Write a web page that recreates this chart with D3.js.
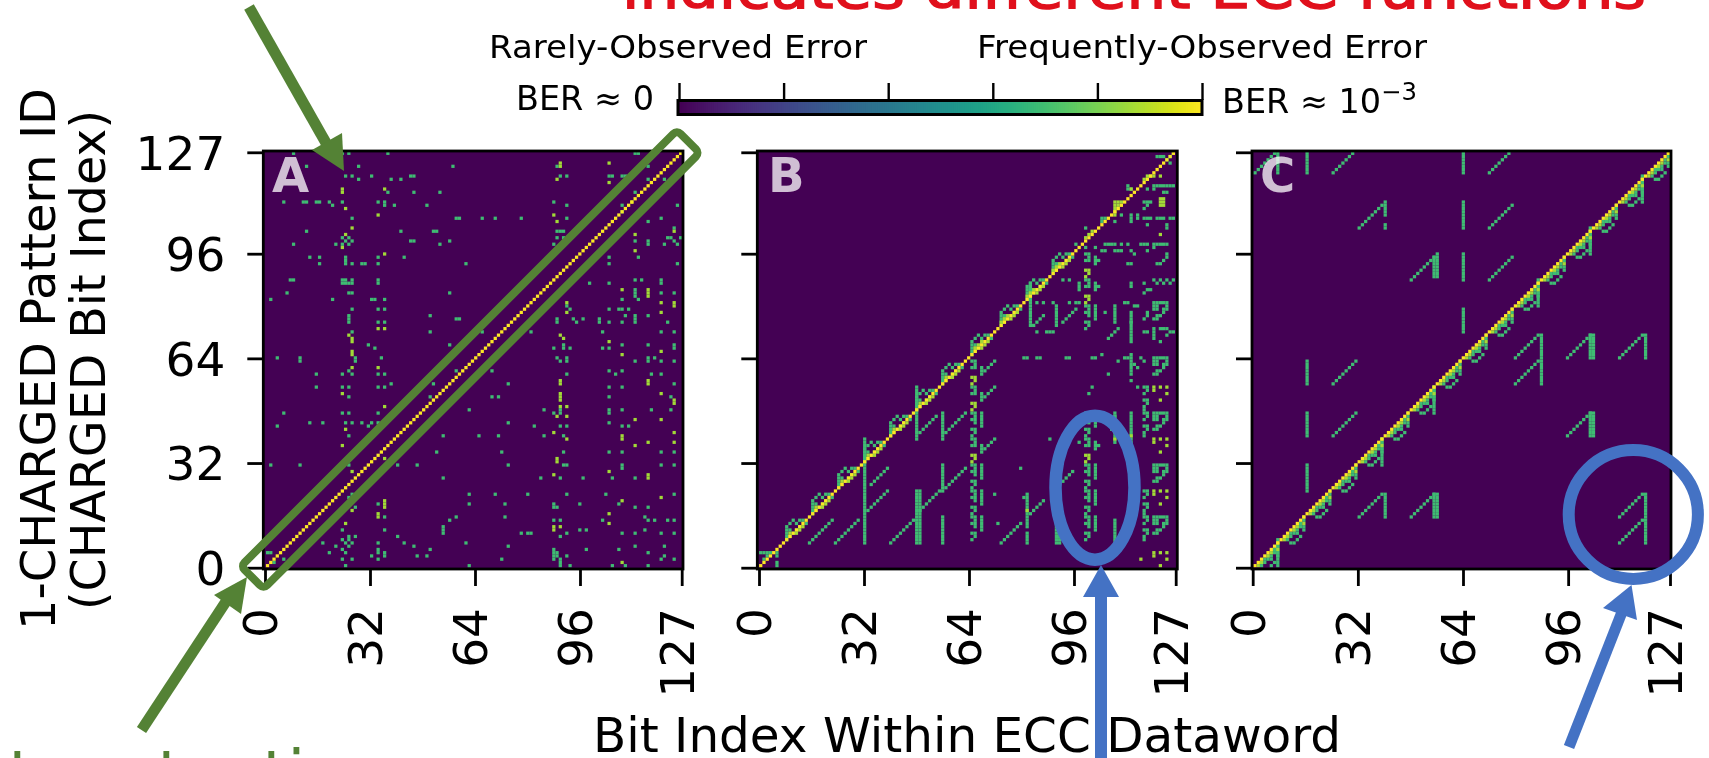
<!DOCTYPE html>
<html>
<head>
<meta charset="utf-8">
<script src="https://cdnjs.cloudflare.com/ajax/libs/d3/7.8.5/d3.min.js"></script>
<style>
  html, body { margin: 0; padding: 0; background: #fff; overflow: hidden; }
  svg { filter: blur(0.45px); }
  text { font-family: "DejaVu Sans", sans-serif; fill: #000; }
</style>
</head>
<body>
<div id="chart"></div>
<script>
// axis ticks shared by all three panels
const tickValues = [0, 32, 64, 96, 127];
const colorbarTicks = [0, 0.2, 0.4, 0.6, 0.8, 1];

// colour levels (fraction of the viridis scale)
const levelGreen = 0.69;
const levelLime = 0.86;
const levelYellow = 1;

// main diagonal, [startCol, startRow, length]
const mainDiagonal = [[0, 0, 128]];

// panel A, scattered cells: [row, [columns]]
const aGreen = [
  [127, [8, 23, 25, 37, 113, 114]],
  [123, [12, 28, 57, 89, 117]],
  [120, [24, 26, 32, 44, 45, 90, 92, 105, 106, 109, 110]],
  [119, [28, 38, 41, 117, 122]],
  [115, [37, 45, 53, 113]],
  [112, [5, 11, 12, 15, 16, 19, 23, 34, 36, 88]],
  [111, [20, 36, 39, 49, 92, 109, 126]],
  [109, [109]],
  [107, [26, 58, 59, 66, 70, 78, 92, 121]],
  [106, [117]],
  [104, [125]],
  [103, [12, 41, 51, 52, 89, 90, 91]],
  [101, [23, 25, 89, 91, 123, 124, 127]],
  [100, [24, 26, 44, 45, 56, 113, 117, 125]],
  [99, [8, 21, 23, 25, 53, 88, 117, 122, 126]],
  [95, [13, 16, 24, 34, 42, 105, 114]],
  [94, [24]],
  [93, [16, 24, 26, 29, 30, 34, 61, 105, 126]],
  [88, [7, 8, 23, 24, 26, 34, 113, 115, 121]],
  [87, [23, 24, 25, 26, 34, 99, 105, 121]],
  [84, [6, 25, 26, 56, 113, 121, 125]],
  [83, [113]],
  [82, [1, 20, 32, 33, 36, 109, 114]],
  [85, [113]],
  [80, [92]],
  [79, [26, 34, 36, 93, 105, 108, 109, 111]],
  [77, [25, 50, 110, 113, 117]],
  [76, [25, 58, 59, 89, 94, 97, 102, 113]],
  [75, [25, 34, 36, 89, 95, 102, 105, 109, 113, 123]],
  [72, [26, 50, 66, 81, 103, 121, 125]],
  [68, [31, 56, 91, 109, 117, 125]],
  [67, [33, 88, 91, 93, 103, 105, 125]],
  [64, [3, 10, 27, 35, 89, 92, 117, 119]],
  [63, [10, 27, 90, 92, 113, 117, 121, 125]],
  [60, [25, 58, 69, 105, 109]],
  [59, [15, 23, 26, 34, 36, 92, 107, 118, 121]],
  [56, [38, 51, 74, 125]],
  [55, [15, 23, 25, 34, 36, 105, 109]],
  [52, [25, 50, 69, 71, 105, 124]],
  [48, [62, 85, 90, 105, 109, 118, 124]],
  [47, [5, 23, 25, 34, 88, 90, 105]],
  [44, [13, 17, 24, 26, 29, 32, 34, 36, 74, 105]],
  [43, [3, 31, 82, 90, 92, 109, 111]],
  [40, [25, 54, 65, 71, 85, 91]],
  [35, [52, 72, 91, 105, 109, 121, 125]],
  [31, [1, 10, 25, 40, 46, 74, 91, 92, 109, 121, 125]],
  [30, [109]],
  [27, [54, 84, 90, 97, 106, 113]],
  [22, [26, 62, 70, 80, 92, 104, 125]],
  [21, [25]],
  [20, [26]],
  [19, [34, 62, 73, 88, 96, 108]],
  [18, [27, 88, 89, 113, 117]],
  [15, [36, 58, 73, 116]],
  [14, [56, 88, 90, 103, 117, 119, 123, 125]],
  [12, [54]],
  [11, [23, 36, 54, 96, 98, 116]],
  [10, [54, 78, 80, 81, 92, 109, 113, 121, 125]],
  [9, [25, 27, 40, 90]],
  [8, [23, 25]],
  [7, [17, 24, 26, 34, 42, 61]],
  [6, [21, 25, 45, 74, 113, 122]],
  [5, [23, 34, 50, 88, 98, 108]],
  [4, [0, 1, 19, 24, 34, 36, 88, 89, 117]],
  [3, [32, 36, 46, 49, 88, 89, 92, 122]],
  [2, [5, 23, 26, 34, 72, 88, 90, 121, 125]],
  [1, [2, 90]],
  [0, [24, 62, 90, 93, 106, 110, 117]]
];
const aLime = [
  [124, [90, 105]],
  [123, [90]],
  [119, [89]],
  [118, [105]],
  [116, [23, 36]],
  [115, [23]],
  [112, [112]],
  [110, [24]],
  [108, [34, 88]],
  [106, [89]],
  [104, [26]],
  [103, [125]],
  [102, [24, 113]],
  [98, [23]],
  [97, [113]],
  [96, [36]],
  [85, [109, 117]],
  [84, [117]],
  [83, [117]],
  [81, [92, 121, 125]],
  [80, [125]],
  [78, [92, 121]],
  [73, [34, 36]],
  [71, [25, 90]],
  [70, [26, 91]],
  [69, [26, 105]],
  [66, [26, 121]],
  [65, [26, 109]],
  [61, [26, 34]],
  [57, [90, 117]],
  [56, [90, 117]],
  [53, [23, 90, 121]],
  [52, [90]],
  [51, [90, 125]],
  [50, [125]],
  [49, [36, 90, 92]],
  [46, [89, 92]],
  [45, [113, 121]],
  [42, [24]],
  [41, [88, 125]],
  [40, [109]],
  [39, [92, 109]],
  [38, [117, 125]],
  [37, [23, 113]],
  [33, [36, 89]],
  [32, [89]],
  [29, [26, 105]],
  [28, [88, 117]],
  [27, [117]],
  [21, [121]],
  [20, [36, 109]],
  [19, [36]],
  [18, [36]],
  [17, [26]],
  [16, [34, 105]],
  [15, [34]],
  [13, [24, 105]],
  [12, [88, 90]],
  [11, [88]],
  [1, [109]]
];

// panel B: repeated shapes and their positions
const bBlock = [[0, 0], [0, 1], [0, 2], [0, 3], [0, 4], [1, 5], [3, 5], [2, 6], [4, 6], [5, 6], [1, 3], [3, 3], [2, 2], [4, 4], [6, 5]];
const bBlockLime = [[1, 1], [1, 2], [3, 2], [4, 3], [5, 4]];
const bBlockStarts = [8, 16, 24, 32, 40, 48, 56, 65, 74, 82, 90];
const bLeftBars = [[65, 47], [65, 31], [65, 23], [65, 15], [100, 31], [100, 23], [100, 15], [100, 47], [100, 80]];
const bBar = [[0, 0], [1, 0], [3, 0], [1, -1], [3, -1], [0, -2], [1, -2], [3, -2], [1, -3], [3, -3], [3, -4], [0, -5], [1, -5], [1, -6], [0, -7]];
const bLeftHooks = [[65, 63], [65, 55], [65, 39]];
const bHook = [[0, 0], [1, 0], [7, 0], [1, -1], [6, -1], [0, -2], [1, -2], [3, -2], [5, -2], [3, -3], [4, -3], [3, -4]];
const bShortHooks = [[100, 39], [100, 96], [100, 88]];
const bShortHook = [[0, 0], [1, 0], [1, -1], [0, -2], [1, -2], [3, -1], [4, -2], [3, -2], [3, -3]];
const bHookLime = [[0, -5], [1, -5], [1, -6], [0, -7]];
const bBigStarts = [15, 31, 47, 64, 81];
const bBig = [[121, 0], [122, 0], [123, 0], [124, 0], [125, 0], [121, -1], [122, -1], [125, -1], [121, -2], [122, -2], [124, -2], [125, -2], [124, -3], [122, -4], [123, -4], [121, -5], [122, -5]];
const bSparseStarts = [55, 39, 23, 4];
const bSparse = [[121, 0], [123, 0], [125, 0], [121, -1], [125, -2], [123, -4]];
const bDottedStarts = [47, 23, 15, 55];
const bDotted = [[118, 0], [119, 0], [119, -1], [118, -2], [118, -4], [119, -4], [119, -5], [118, -6], [118, -7]];

// panel B: straight pieces, [col, rowFrom, rowTo] and [col, row, length]
const bColumns = [
  [32, 7, 39], [48, 7, 23], [49, 7, 23], [48, 39, 55], [56, 7, 15], [56, 23, 31], [56, 39, 47],
  [82, 12, 22], [82, 7, 10], [91, 7, 13], [92, 7, 13], [109, 7, 14], [114, 106, 108],
  [114, 14, 18], [114, 72, 75], [114, 59, 65], [109, 38, 47], [114, 38, 47],
  [83, 74, 87], [91, 74, 80], [109, 75, 80], [114, 75, 78], [114, 69, 71],
  [98, 85, 86]
];
const bSlants = [
  [15, 7, 8], [23, 7, 8], [33, 17, 7], [34, 25, 6], [40, 7, 8], [49, 17, 7], [57, 24, 7],
  [49, 41, 6], [57, 41, 7], [74, 7, 7], [83, 16, 5], [93, 26, 4], [107, 70, 4], [84, 74, 4], [93, 75, 5]
];
const bPoints = [
  [5, 0], [5, 1], [5, 3], [5, 4], [0, 4], [1, 4], [2, 4], [3, 4], [2, 3], [1, 2],
  [105, 65], [80, 30], [72, 22], [73, 13], [89, 39], [81, 21], [98, 38], [109, 46],
  [110, 63], [107, 59], [102, 55], [101, 53], [114, 57], [116, 55], [108, 42],
  [122, 126], [123, 126], [124, 126], [126, 126], [125, 125], [127, 127], [126, 124],
  [113, 117], [114, 116], [113, 116], [119, 116], [121, 116], [124, 115], [125, 115],
  [121, 117], [122, 117], [123, 117], [124, 117], [125, 117], [126, 117], [127, 117],
  [118, 112], [119, 112], [120, 112], [119, 111], [118, 110], [111, 108], [105, 107], [106, 107], [105, 106], [109, 106],
  [116, 108], [116, 107], [118, 107], [119, 107], [120, 107], [122, 107], [123, 107], [124, 107], [126, 107], [127, 107], [119, 105],
  [125, 105], [125, 104], [100, 104], [97, 99], [100, 98], [103, 98], [106, 99], [107, 99], [108, 99], [109, 99], [111, 99], [113, 99],
  [117, 99], [118, 99], [119, 99], [121, 99], [122, 99], [123, 99], [124, 99], [125, 99], [121, 98], [105, 97], [106, 97], [109, 97], [110, 97], [111, 97],
  [114, 97], [115, 96], [119, 97], [125, 96], [125, 95], [124, 94], [123, 93], [122, 93], [113, 93], [114, 93],
  [93, 88], [95, 88], [98, 87], [121, 88], [123, 88], [125, 88], [127, 88], [122, 87], [124, 87], [126, 87], [114, 87], [114, 86],
  [118, 87], [119, 85], [118, 84], [120, 85], [85, 81], [87, 81], [90, 81], [95, 81], [97, 81], [98, 81],
  [112, 81], [113, 81], [115, 80], [116, 80], [119, 78], [119, 77], [118, 76], [106, 78], [85, 72], [88, 72], [89, 72], [90, 72],
  [121, 73], [121, 72], [121, 71], [121, 70], [123, 73], [124, 73], [125, 73], [126, 72], [127, 72], [125, 71], [123, 69], [118, 72], [119, 72],
  [112, 64], [113, 64], [117, 64], [118, 63], [116, 61], [115, 62], [94, 64], [95, 64], [102, 64], [103, 64], [85, 64], [86, 64], [81, 64], [82, 64]
];
const bLimePoints = [
  [123, 120], [123, 113], [124, 113], [123, 112], [124, 112], [123, 111], [124, 111], [123, 102],
  [109, 108], [109, 109], [109, 110], [110, 110], [110, 111], [109, 111], [109, 112], [110, 112], [111, 112],
  [118, 119], [119, 119], [120, 120], [121, 120], [119, 120], [114, 116], [109, 39], [114, 40], [82, 17], [117, 2]
];
// panel B: short runs that sit close to the diagonal
const bDiagonalLime = [[100, 101, 3], [66, 67, 3], [74, 75, 3], [82, 83, 3], [90, 91, 3]];

// panel C: repeated block on the diagonal
const cBlockStarts = [0, 8, 16, 24, 32, 40, 48, 56, 64, 72, 80, 88, 96, 104, 112, 120];
const cBlock = [[2, 0], [3, -1], [4, -1], [5, 0], [6, 1], [5, 2], [4, 2], [3, 1], [7, 3], [7, 4], [6, 5], [6, 4], [5, 3], [4, 3], [3, 2], [7, 6]];
const cBlockLime = [[1, 0], [2, 1], [4, 3], [5, 4], [7, 5], [7, 7]];
// panel C: bars, [col, rowFrom, rowTo]
const cColumns = [
  [7, 121, 127], [16, 121, 127], [64, 121, 127], [64, 104, 112], [64, 88, 96], [64, 72, 79],
  [16, 56, 63], [16, 40, 47], [16, 23, 31],
  [40, 108, 112], [40, 104, 105], [56, 89, 96], [55, 89, 95],
  [88, 64, 71], [88, 56, 63], [104, 64, 71], [103, 64, 71], [120, 64, 71],
  [104, 40, 47], [103, 40, 47], [40, 15, 22], [56, 15, 22], [55, 15, 22], [120, 15, 22], [120, 7, 14],
  [7, 0, 8], [39, 31, 39], [55, 47, 55], [87, 80, 88], [103, 96, 104], [119, 112, 120]
];
// panel C: slants, [col, row, length]
const cSlants = [
  [0, 121, 7], [24, 121, 7], [72, 121, 7], [32, 104, 8], [72, 104, 8], [48, 88, 8], [72, 88, 8],
  [24, 56, 8], [24, 40, 8], [80, 64, 8], [80, 56, 8], [96, 64, 8], [112, 64, 8], [96, 40, 8],
  [32, 15, 8], [48, 15, 8], [112, 15, 8], [112, 7, 8]
];

const width = 1709;
const height = 758;
const green = "#548235";
const blue = "#4472c4";

const color = d3.scaleSequential(d3.interpolateViridis).domain([0, 1]);

const svg = d3.select("#chart").append("svg")
  .attr("width", width)
  .attr("height", height)
  .style("display", "block");

// helpers that unpack the lists above into single cells
const fromRows = (rows, value) => rows.flatMap(([r, cols]) => cols.map(c => ({ col: c, row: r, value })));
const fromPoints = (pts, value) => pts.map(([c, r]) => ({ col: c, row: r, value }));
const fromColumns = (cols, value) => cols.flatMap(([c, r0, r1]) => d3.range(r0, r1 + 1).map(r => ({ col: c, row: r, value })));
const fromSlants = (slants, value) => slants.flatMap(([c, r, n]) => d3.range(n).map(i => ({ col: c + i, row: r + i, value })));
const place = (shape, col, row, value) => shape.map(([dc, dr]) => ({ col: col + dc, row: row + dr, value }));

const cellsA = [].concat(
  fromRows(aGreen, levelGreen),
  fromRows(aLime, levelLime),
  fromSlants(mainDiagonal, levelYellow)
);

const cellsB = [].concat(
  bBlockStarts.flatMap(b => place(bBlock, b, b, levelGreen)),
  bBlockStarts.flatMap(b => place(bBlockLime, b, b, levelLime)),
  bLeftBars.flatMap(([c, r]) => place(bBar, c, r, levelGreen)),
  bLeftHooks.flatMap(([c, r]) => place(bHook, c, r, levelGreen)),
  bShortHooks.flatMap(([c, r]) => place(bShortHook, c, r, levelGreen)),
  bLeftHooks.concat(bShortHooks).flatMap(([c, r]) => place(bHookLime, c, r, levelLime)),
  bBigStarts.flatMap(r => place(bBig, 0, r, levelGreen)),
  bSparseStarts.flatMap(r => place(bSparse, 0, r, levelLime)),
  bDottedStarts.flatMap(r => place(bDotted, 0, r, levelGreen)),
  fromColumns(bColumns, levelGreen),
  fromSlants(bSlants, levelGreen),
  fromPoints(bPoints, levelGreen),
  fromPoints(bLimePoints, levelLime),
  fromSlants(bDiagonalLime, levelLime),
  fromSlants(mainDiagonal, levelYellow)
).filter(d => d.col < 128 && d.row < 128 && d.row >= 0);

const cellsC = [].concat(
  fromColumns(cColumns, levelGreen),
  fromSlants(cSlants, levelGreen),
  cBlockStarts.flatMap(b => place(cBlock, b, b, levelGreen)),
  cBlockStarts.flatMap(b => place(cBlockLime, b, b, levelLime)),
  fromSlants(mainDiagonal, levelYellow)
).filter(d => d.col < 128 && d.row < 128 && d.row >= 0);

// panel geometry
const panels = [
  { name: "A", cells: cellsA, left: 263.3, right: 683, image: [265.9, 682.3], ticks: [265, 681.7], letterX: 272 },
  { name: "B", cells: cellsB, left: 757.3, right: 1177.3, image: [759.1, 1175], ticks: [759, 1175.7], letterX: 768 },
  { name: "C", cells: cellsC, left: 1252, right: 1671, image: [1253.4, 1670], ticks: [1252.7, 1670], letterX: 1260 }
];
const plotTop = 151;
const plotBottom = 569;

const yTicks = d3.scaleLinear().domain([0, 127]).range([567.7, 152.3]);

panels.forEach((p, i) => {
  const g = svg.append("g").attr("class", "panel-" + p.name);

  g.append("rect")
    .attr("x", p.left).attr("y", plotTop)
    .attr("width", p.right - p.left).attr("height", plotBottom - plotTop)
    .attr("fill", color(0));

  const cellX = d3.scaleBand().domain(d3.range(128)).range(p.image);
  const cellY = d3.scaleBand().domain(d3.range(128)).range([567.3, 151.7]);

  g.selectAll("rect.cell")
    .data(p.cells)
    .enter()
    .append("rect")
    .attr("class", "cell")
    .attr("x", d => cellX(d.col))
    .attr("y", d => cellY(d.row))
    .attr("width", cellX.bandwidth())
    .attr("height", cellY.bandwidth())
    .attr("fill", d => color(d.value));

  g.append("rect")
    .attr("x", p.left).attr("y", plotTop)
    .attr("width", p.right - p.left).attr("height", plotBottom - plotTop)
    .attr("fill", "none")
    .attr("stroke", "#000")
    .attr("stroke-width", 2.8);

  g.append("text")
    .attr("x", p.letterX).attr("y", 191.7)
    .attr("font-size", 48)
    .attr("font-weight", "bold")
    .style("fill", "#fff")
    .attr("fill-opacity", 0.75)
    .text(p.name);

  // bottom axis
  const xTicks = d3.scaleLinear().domain([0, 127]).range(p.ticks);
  const xAxis = g.append("g")
    .attr("transform", "translate(0," + plotBottom + ")")
    .call(d3.axisBottom(xTicks).tickValues(tickValues).tickSize(17).tickFormat(d3.format("d")));
  xAxis.select(".domain").remove();
  xAxis.selectAll("line").attr("stroke", "#000").attr("stroke-width", 2.8);
  xAxis.selectAll("text")
    .attr("transform", "rotate(-90)")
    .attr("x", -39)
    .attr("y", -5)
    .attr("dy", "0.35em")
    .attr("text-anchor", "end")
    .attr("font-size", 47)
    .attr("font-family", "DejaVu Sans")
    .style("fill", "#000");

  // left axis, labels only on the first panel
  const yAxis = g.append("g")
    .attr("transform", "translate(" + p.left + ",0)")
    .call(d3.axisLeft(yTicks).tickValues(tickValues).tickSize(16).tickFormat(i === 0 ? d3.format("d") : ""));
  yAxis.select(".domain").remove();
  yAxis.selectAll("line").attr("stroke", "#000").attr("stroke-width", 2.8);
  yAxis.selectAll("text")
    .attr("x", -38)
    .attr("dy", "0.36em")
    .attr("font-size", 47)
    .attr("font-family", "DejaVu Sans")
    .style("fill", "#000");
});

// axis titles
const rotated = (x, y, str, len, size) => svg.append("text")
  .attr("transform", "translate(" + x + "," + y + ") rotate(-90)")
  .attr("text-anchor", "middle")
  .attr("font-size", size)
  .attr("textLength", len)
  .attr("lengthAdjust", "spacingAndGlyphs")
  .text(str);

rotated(55, 359, "1-CHARGED Pattern ID", 542, 48);
rotated(105, 360, "(CHARGED Bit Index)", 500, 48);

svg.append("text")
  .attr("x", 593).attr("y", 752)
  .attr("font-size", 48)
  .attr("textLength", 748)
  .attr("lengthAdjust", "spacingAndGlyphs")
  .text("Bit Index Within ECC Dataword");

// colour bar
const barScale = d3.scaleLinear().domain([0, 1]).range([679, 1202]);
const barSteps = d3.range(0, 1, 1 / 255);
svg.append("g").selectAll("rect")
  .data(barSteps)
  .enter()
  .append("rect")
  .attr("x", d => barScale(d))
  .attr("y", 101)
  .attr("width", 3)
  .attr("height", 13)
  .attr("fill", d => color(d));
svg.append("rect")
  .attr("x", 678).attr("y", 100.5)
  .attr("width", 524).attr("height", 14)
  .attr("fill", "none")
  .attr("stroke", "#000")
  .attr("stroke-width", 3);
const barAxis = svg.append("g")
  .attr("transform", "translate(0,100)")
  .call(d3.axisTop(barScale).tickValues(colorbarTicks).tickSize(17).tickFormat(""));
barAxis.select(".domain").remove();
barAxis.selectAll("line").attr("stroke", "#000").attr("stroke-width", 2.4);

const caption = (x, y, str, len, size) => svg.append("text")
  .attr("x", x).attr("y", y)
  .attr("font-size", size)
  .attr("textLength", len)
  .attr("lengthAdjust", "spacingAndGlyphs")
  .text(str);

caption(489, 58, "Rarely-Observed Error", 378, 32);
caption(977, 58, "Frequently-Observed Error", 450, 32);
caption(516, 110, "BER  \u2248 0", 138, 33);
const ber = svg.append("text")
  .attr("x", 1222).attr("y", 113)
  .attr("font-size", 33)
  .attr("textLength", 195)
  .attr("lengthAdjust", "spacingAndGlyphs");
ber.append("tspan").text("BER  \u2248 10");
ber.append("tspan").attr("dy", -13).attr("font-size", 24).text("\u22123");

// annotations over the chart
svg.append("text")
  .attr("x", 622).attr("y", 8)
  .attr("font-size", 54)
  .attr("textLength", 1024)
  .attr("lengthAdjust", "spacingAndGlyphs")
  .style("fill", "#e0101c")
  .attr("stroke", "#e0101c")
  .attr("stroke-width", 1.4)
  .text("indicates different ECC functions");

svg.append("text")
  .attr("x", -80).attr("y", 796)
  .attr("font-size", 64)
  .style("fill", green)
  .text("Data retention");

const arrow = (shaftFrom, shaftTo, head, col, w) => {
  svg.append("line")
    .attr("x1", shaftFrom[0]).attr("y1", shaftFrom[1])
    .attr("x2", shaftTo[0]).attr("y2", shaftTo[1])
    .attr("stroke", col)
    .attr("stroke-width", w);
  svg.append("path")
    .attr("d", d3.line()(head) + "Z")
    .attr("fill", col);
};

// green outline around the diagonal of panel A
svg.append("rect")
  .attr("x", -308.3).attr("y", -16)
  .attr("width", 616.6).attr("height", 32)
  .attr("rx", 5)
  .attr("transform", "translate(470.25,359.5) rotate(-45)")
  .attr("fill", "none")
  .attr("stroke", green)
  .attr("stroke-width", 8);

arrow([249, 7], [330, 150], [[344, 171], [312, 150], [342, 133]], green, 11);
arrow([141.5, 730], [227, 600], [[247, 577], [214, 595], [241, 614]], green, 11);

svg.append("ellipse")
  .attr("cx", 1095).attr("cy", 487.7)
  .attr("rx", 39.5).attr("ry", 72)
  .attr("fill", "none")
  .attr("stroke", blue)
  .attr("stroke-width", 12.5);

svg.append("ellipse")
  .attr("cx", 1633.3).attr("cy", 514.5)
  .attr("rx", 64.6).attr("ry", 64.5)
  .attr("fill", "none")
  .attr("stroke", blue)
  .attr("stroke-width", 12);

arrow([1101, 758], [1101, 597], [[1101, 565], [1083, 597], [1119, 597]], blue, 12);
arrow([1569, 747], [1622, 612], [[1631.5, 585], [1603, 608], [1637, 620]], blue, 11);
</script>
</body>
</html>
